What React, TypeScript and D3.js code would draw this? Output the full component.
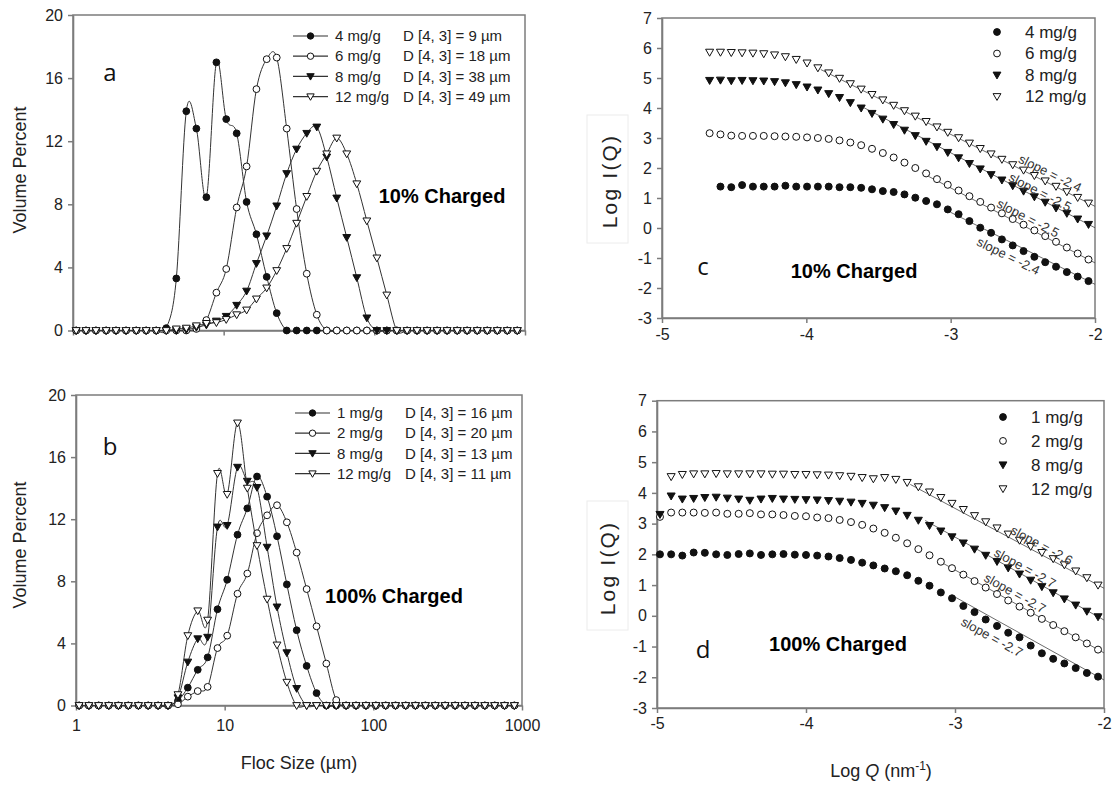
import React, { useEffect, useRef } from 'react';
import * as d3 from 'd3';

// Floc size bins (µm) shared by panels a and b
const flocSizes = [1.05, 1.22, 1.42, 1.66, 1.93, 2.25, 2.63, 3.06, 3.57, 4.16, 4.85, 5.65, 6.59, 7.68, 8.95, 10.4, 12.2, 14.2, 16.5, 19.3, 22.5, 26.2, 30.5, 35.6, 41.5, 48.3, 56.3, 65.6, 76.5, 89.2, 104, 121, 141, 165, 192, 224, 261, 304, 355, 413, 482, 562, 655, 763, 889];

// Panel a - 10% charged, volume percent per bin
const volA4 = [0, 0, 0, 0, 0, 0, 0, 0, 0, 0.15, 3.3, 13.9, 12.8, 8.45, 17.0, 13.4, 12.5, 8.15, 6.1, 3.4, 1.1, 0, 0, 0, 0, 0, 0, 0, 0, 0, 0, 0, 0, 0, 0, 0, 0, 0, 0, 0, 0, 0, 0, 0, 0];
const volA6 = [0, 0, 0, 0, 0, 0, 0, 0, 0, 0, 0, 0, 0.1, 0.66, 2.4, 3.9, 7.8, 10.4, 15.3, 17.2, 17.3, 12.8, 7.7, 3.6, 1.0, 0, 0, 0, 0, 0, 0, 0, 0, 0, 0, 0, 0, 0, 0, 0, 0, 0, 0, 0, 0];
const volA8 = [0, 0, 0, 0, 0, 0, 0, 0, 0, 0, 0, 0.05, 0.2, 0.35, 0.6, 0.9, 1.6, 2.5, 4.25, 6.0, 7.9, 9.95, 11.5, 12.5, 12.9, 11.0, 8.4, 5.9, 3.35, 0.8, 0, 0, 0, 0, 0, 0, 0, 0, 0, 0, 0, 0, 0, 0, 0];
const volA12 = [0, 0, 0, 0, 0, 0, 0, 0, 0, 0, 0.1, 0.15, 0.3, 0.45, 0.5, 0.7, 1.0, 1.3, 2.0, 2.7, 3.8, 5.2, 6.8, 8.5, 10.1, 11.2, 12.2, 11.2, 9.3, 6.95, 4.6, 2.25, 0, 0, 0, 0, 0, 0, 0, 0, 0, 0, 0, 0, 0];

// Panel b - 100% charged
const volB1 = [0, 0, 0, 0, 0, 0, 0, 0, 0, 0, 0.3, 1.15, 2.3, 3.1, 6.2, 8.1, 11.0, 12.7, 14.75, 13.45, 10.9, 7.8, 4.85, 2.55, 0.8, 0, 0, 0, 0, 0, 0, 0, 0, 0, 0, 0, 0, 0, 0, 0, 0, 0, 0, 0, 0];
const volB2 = [0, 0, 0, 0, 0, 0, 0, 0, 0, 0, 0.08, 0.57, 0.93, 1.2, 3.7, 4.5, 7.2, 8.5, 11.1, 12.25, 12.9, 11.8, 9.85, 7.5, 5.1, 2.7, 0.35, 0, 0, 0, 0, 0, 0, 0, 0, 0, 0, 0, 0, 0, 0, 0, 0, 0, 0];
const volB8 = [0, 0, 0, 0, 0, 0, 0, 0, 0, 0, 0.5, 2.8, 4.3, 4.4, 11.5, 11.6, 15.35, 14.45, 14.05, 10.2, 6.35, 3.4, 1.1, 0, 0, 0, 0, 0, 0, 0, 0, 0, 0, 0, 0, 0, 0, 0, 0, 0, 0, 0, 0, 0, 0];
const volB12 = [0, 0, 0, 0, 0, 0, 0, 0, 0, 0, 0.7, 4.5, 6.1, 5.5, 14.95, 13.6, 18.2, 14.0, 10.3, 6.85, 3.9, 1.5, 0, 0, 0, 0, 0, 0, 0, 0, 0, 0, 0, 0, 0, 0, 0, 0, 0, 0, 0, 0, 0, 0, 0];

const dosesA = ['4 mg/g', '6 mg/g', '8 mg/g', '12 mg/g'];
const d43A = [9, 18, 38, 49];
const dosesB = ['1 mg/g', '2 mg/g', '8 mg/g', '12 mg/g'];
const d43B = [16, 20, 13, 11];

// Panel c - scattering, 10% charged (log Q grid, log I per series)
const logQc = [-4.67, -4.595, -4.52, -4.445, -4.37, -4.295, -4.22, -4.145, -4.07, -3.995, -3.92, -3.845, -3.77, -3.695, -3.62, -3.545, -3.47, -3.395, -3.32, -3.245, -3.17, -3.095, -3.02, -2.945, -2.87, -2.795, -2.72, -2.645, -2.57, -2.495, -2.42, -2.345, -2.27, -2.195, -2.12, -2.045];
const logIc4 = [null, 1.38, 1.36, 1.43, 1.38, 1.38, 1.38, 1.41, 1.38, 1.38, 1.38, 1.38, 1.36, 1.36, 1.34, 1.29, 1.23, 1.2, 1.12, 1.01, 0.9, 0.79, 0.62, 0.46, 0.23, 0.01, -0.16, -0.38, -0.58, -0.77, -0.96, -1.14, -1.29, -1.47, -1.62, -1.77];
const logIc6 = [3.16, 3.12, 3.08, 3.07, 3.07, 3.07, 3.06, 3.05, 3.04, 3.02, 3.0, 2.97, 2.92, 2.85, 2.76, 2.64, 2.5, 2.35, 2.18, 2.0, 1.82, 1.63, 1.44, 1.25, 1.06, 0.87, 0.68, 0.49, 0.3, 0.11, -0.08, -0.27, -0.46, -0.65, -0.85, -1.05];
const logIc8 = [4.92, 4.93, 4.91, 4.92, 4.91, 4.9, 4.88, 4.84, 4.78, 4.7, 4.6, 4.48, 4.35, 4.18, 4.0, 3.82, 3.63, 3.45, 3.26, 3.08, 2.89, 2.71, 2.52, 2.34, 2.15, 1.97, 1.78, 1.6, 1.41, 1.23, 1.04, 0.86, 0.67, 0.49, 0.3, 0.12];
const logIc12 = [5.86, 5.86, 5.85, 5.84, 5.83, 5.81, 5.77, 5.71, 5.62, 5.5, 5.34, 5.17, 4.99, 4.81, 4.63, 4.45, 4.27, 4.09, 3.91, 3.73, 3.55, 3.37, 3.19, 3.01, 2.83, 2.65, 2.47, 2.29, 2.11, 1.93, 1.75, 1.57, 1.39, 1.21, 1.02, 0.83];
const slopesC = [-2.4, -2.5, -2.5, -2.4];
const fitStartC = [-3.0, -3.2, -3.6, -3.9];

// Panel d - scattering, 100% charged
const logQd = [-4.98, -4.905, -4.83, -4.754, -4.679, -4.603, -4.528, -4.452, -4.377, -4.302, -4.226, -4.151, -4.075, -4.0, -3.925, -3.849, -3.774, -3.698, -3.623, -3.548, -3.472, -3.397, -3.321, -3.246, -3.171, -3.095, -3.02, -2.944, -2.869, -2.794, -2.718, -2.643, -2.567, -2.492, -2.417, -2.341, -2.266, -2.19, -2.115, -2.04];
const logId1 = [2.0, 2.0, 1.96, 2.06, 2.05, 2.0, 1.98, 2.01, 2.03, 1.98, 2.0, 2.01, 1.99, 1.98, 1.96, 1.93, 1.88, 1.82, 1.73, 1.64, 1.54, 1.45, 1.32, 1.14, 0.98, 0.76, 0.57, 0.32, 0.12, -0.12, -0.33, -0.55, -0.7, -0.97, -1.22, -1.4, -1.55, -1.7, -1.86, -1.98];
const logId2 = [3.22, 3.36, 3.36, 3.36, 3.35, 3.36, 3.32, 3.32, 3.34, 3.3, 3.3, 3.28, 3.25, 3.24, 3.2, 3.18, 3.12, 3.05, 2.96, 2.84, 2.7, 2.54, 2.36, 2.17, 1.97, 1.76, 1.55, 1.34, 1.13, 0.92, 0.71, 0.5, 0.3, 0.1, -0.1, -0.3, -0.5, -0.7, -0.9, -1.1];
const logId8 = [3.3, 3.9, 3.8, 3.82, 3.85, 3.86, 3.83, 3.8, 3.76, 3.8, 3.82, 3.8, 3.79, 3.78, 3.77, 3.75, 3.73, 3.7, 3.66, 3.6, 3.52, 3.41, 3.27, 3.11, 2.94, 2.76, 2.57, 2.37, 2.17, 1.97, 1.77, 1.56, 1.36, 1.16, 0.95, 0.75, 0.55, 0.35, 0.15, -0.03];
const logId12 = [null, 4.53, 4.6, 4.62, 4.62, 4.63, 4.62, 4.62, 4.62, 4.62, 4.61, 4.61, 4.6, 4.6, 4.59, 4.58, 4.56, 4.54, 4.5, 4.46, 4.5, 4.44, 4.34, 4.2, 4.03, 3.85, 3.66, 3.46, 3.26, 3.06, 2.86, 2.66, 2.46, 2.26, 2.06, 1.86, 1.66, 1.46, 1.24, 1.0];
const slopesD = [-2.7, -2.7, -2.7, -2.6];
const fitStartD = [-3.0, -3.1, -3.2, -3.3];

const volumeTicks = [0, 4, 8, 12, 16, 20];
const sizeTicks = [1, 10, 100, 1000];
const logITicks = [-3, -2, -1, 0, 1, 2, 3, 4, 5, 6, 7];
const logQTicks = [-5, -4, -3, -2];

const shapes = ['dot', 'ring', 'tri', 'opentri'];
const INK = '#111';
const AXIS = '#7c7c7c';
const FONT = '"Liberation Sans", Arial, Helvetica, sans-serif';

function drawMarker(g: any, shape: string, cx: number, cy: number, r: number) {
  if (shape === 'dot' || shape === 'ring') {
    g.append('circle')
      .attr('cx', cx).attr('cy', cy).attr('r', r)
      .attr('fill', shape === 'dot' ? INK : '#fff')
      .attr('stroke', INK).attr('stroke-width', 1);
  } else {
    const w = r * 1.15;
    g.append('path')
      .attr('d', `M${cx - w},${cy - r * 0.85}L${cx + w},${cy - r * 0.85}L${cx},${cy + r * 1.15}Z`)
      .attr('fill', shape === 'tri' ? INK : '#fff')
      .attr('stroke', INK).attr('stroke-width', 1);
  }
}

function styleAxis(a: any) {
  a.select('.domain').attr('stroke', AXIS).attr('stroke-width', 1.6);
  a.selectAll('.tick line').attr('stroke', AXIS).attr('stroke-width', 1.5);
  a.selectAll('.tick text').attr('fill', '#222').attr('font-size', 16).attr('font-family', FONT);
}

function drawSizePanel(svg: any, p: any) {
  const x = d3.scaleLog().domain([1, 1000]).range([p.left, p.right]);
  const y = d3.scaleLinear().domain([0, 20]).range([p.bottom, p.top]);
  const g = svg.append('g');

  g.append('rect')
    .attr('x', p.left).attr('y', p.top)
    .attr('width', p.right - p.left).attr('height', p.bottom - p.top)
    .attr('fill', 'none').attr('stroke', AXIS).attr('stroke-width', 1.5);

  const yAxis = g.append('g').attr('transform', `translate(${p.left},0)`)
    .call(d3.axisLeft(y).tickValues(volumeTicks).tickSize(5).tickSizeOuter(0).tickPadding(5));
  const xAxis = g.append('g').attr('transform', `translate(0,${p.bottom})`)
    .call(d3.axisBottom(x).tickValues(sizeTicks)
      .tickFormat(p.xLabels ? (d: any) => String(d) : () => '')
      .tickSize(5).tickSizeOuter(0).tickPadding(9));
  styleAxis(yAxis);
  styleAxis(xAxis);

  // series: smoothed line, then markers
  const line = d3.line<number>()
    .x((d, i) => x(flocSizes[i]))
    .y(d => y(d))
    .curve(d3.curveCardinal.tension(0));
  p.series.forEach((vals: number[], k: number) => {
    g.append('path').attr('d', line(vals))
      .attr('fill', 'none').attr('stroke', '#333').attr('stroke-width', 1);
    vals.forEach((v, i) => drawMarker(g, shapes[k], x(flocSizes[i]), y(v), 3.4));
  });

  // legend
  p.doses.forEach((name: string, k: number) => {
    const yy = p.legendY + k * 20.2;
    g.append('line').attr('x1', p.legendX).attr('x2', p.legendX + 35)
      .attr('y1', yy).attr('y2', yy).attr('stroke', '#333').attr('stroke-width', 1.2);
    drawMarker(g, shapes[k], p.legendX + 17.5, yy, 3.2);
    g.append('text').attr('x', p.legendX + 42).attr('y', yy).attr('dy', '0.35em')
      .attr('font-size', 15).attr('font-family', FONT).attr('fill', '#222').text(name);
    g.append('text').attr('x', p.legendX + 110).attr('y', yy).attr('dy', '0.35em')
      .attr('font-size', 15).attr('font-family', FONT).attr('fill', '#222')
      .text(`D [4, 3] = ${p.d43[k]} µm`);
  });

  g.append('text')
    .attr('transform', `translate(26,${p.titleY}) rotate(-90)`)
    .attr('text-anchor', 'middle').attr('font-size', 18).attr('font-family', FONT).attr('fill', '#222')
    .text('Volume Percent');

  g.append('text').attr('x', p.letterX).attr('y', p.letterY).attr('dy', '0.35em')
    .attr('text-anchor', 'middle').attr('font-size', 24).attr('font-family', '"Open Sans", sans-serif')
    .attr('fill', '#111').text(p.letter);
  g.append('text').attr('x', p.chargeX).attr('y', p.chargeY).attr('dy', '0.35em')
    .attr('text-anchor', 'middle').attr('font-size', 20).attr('font-weight', 'bold')
    .attr('font-family', FONT).attr('fill', '#000').text(p.charge);
}

function drawScatterPanel(svg: any, p: any) {
  const x = d3.scaleLinear().domain([-5, -2]).range([p.left, p.right]);
  const y = d3.scaleLinear().domain([-3, 7]).range([p.bottom, p.top]);
  const g = svg.append('g');

  // faint frame around the pasted y title
  g.append('rect').attr('x', 587).attr('y', p.titleBox[0])
    .attr('width', 41).attr('height', p.titleBox[1] - p.titleBox[0])
    .attr('fill', '#fff').attr('stroke', '#ececec').attr('stroke-width', 1);
  g.append('text')
    .attr('transform', `translate(${p.titleX},${p.titleY}) rotate(-90)`)
    .attr('text-anchor', 'middle').attr('dy', '0.35em')
    .attr('font-size', 21).attr('font-family', FONT).attr('fill', '#222')
    .attr('letter-spacing', 2.2)
    .text('Log I(Q)');

  g.append('rect')
    .attr('x', p.left).attr('y', p.top)
    .attr('width', p.right - p.left).attr('height', p.bottom - p.top)
    .attr('fill', 'none').attr('stroke', AXIS).attr('stroke-width', 1.5);

  const yAxis = g.append('g').attr('transform', `translate(${p.left},0)`)
    .call(d3.axisLeft(y).tickValues(logITicks).tickFormat((d: any) => String(d))
      .tickSize(5).tickSizeOuter(0).tickPadding(5));
  const xAxis = g.append('g').attr('transform', `translate(0,${p.bottom})`)
    .call(d3.axisBottom(x).tickValues(logQTicks).tickFormat((d: any) => String(d))
      .tickSize(5).tickSizeOuter(0).tickPadding(p.xPad));
  styleAxis(yAxis);
  styleAxis(xAxis);

  // straight power-law fits through the high-Q part
  p.series.forEach((vals: (number | null)[], k: number) => {
    const last = vals[vals.length - 1] as number;
    const qLast = p.grid[p.grid.length - 1];
    const x0 = p.fitStart[k];
    const y0 = last + p.slopes[k] * (x0 - qLast);
    const y1 = last + p.slopes[k] * (-2 - qLast);
    g.append('line').attr('x1', x(x0)).attr('y1', y(y0)).attr('x2', x(-2)).attr('y2', y(y1))
      .attr('stroke', '#444').attr('stroke-width', 0.8);
  });

  p.series.forEach((vals: (number | null)[], k: number) => {
    vals.forEach((v, i) => {
      if (v === null) return;
      drawMarker(g, shapes[k], x(p.grid[i]), y(v), 3.5);
    });
  });

  // legend
  p.doses.forEach((name: string, k: number) => {
    const yy = p.legendY + k * p.legendDy;
    drawMarker(g, shapes[k], p.legendX, yy, 3.4);
    g.append('text').attr('x', p.legendX + 28).attr('y', yy).attr('dy', '0.35em')
      .attr('font-size', 17).attr('font-family', FONT).attr('fill', '#222').text(name);
  });

  // slope labels, rotated along the fitted lines
  const pxPerX = x(1) - x(0);
  const pxPerY = y(0) - y(1);
  p.labelQ.forEach((q: number, k: number) => {
    const ang = Math.atan(-p.slopes[k] * pxPerY / pxPerX) * 180 / Math.PI;
    g.append('text')
      .attr('transform', `translate(${x(q)},${y(p.labelI[k])}) rotate(${ang})`)
      .attr('text-anchor', 'middle').attr('dy', '0.35em')
      .attr('font-size', 13).attr('font-family', FONT).attr('fill', '#333')
      .text(`slope = ${p.slopes[k]}`);
  });

  g.append('text').attr('x', p.letterX).attr('y', p.letterY).attr('dy', '0.35em')
    .attr('text-anchor', 'middle').attr('font-size', 24).attr('font-family', '"Open Sans", sans-serif')
    .attr('fill', '#111').text(p.letter);
  g.append('text').attr('x', p.chargeX).attr('y', p.chargeY).attr('dy', '0.35em')
    .attr('text-anchor', 'middle').attr('font-size', 20).attr('font-weight', 'bold')
    .attr('font-family', FONT).attr('fill', '#000').text(p.charge);
}

export default function App() {
  const svgRef = useRef<SVGSVGElement>(null);

  useEffect(() => {
    const svg = d3.select(svgRef.current);
    svg.selectAll('*').remove();
    svg.append('rect').attr('width', 1112).attr('height', 786).attr('fill', '#fff');

    drawSizePanel(svg, {
      left: 73, right: 525, top: 15, bottom: 330.5,
      series: [volA4, volA6, volA8, volA12], doses: dosesA, d43: d43A,
      legendX: 293, legendY: 36, titleY: 170, xLabels: false,
      letter: 'a', letterX: 110, letterY: 73, charge: '10% Charged', chargeX: 442, chargeY: 196,
    });
    drawSizePanel(svg, {
      left: 76, right: 522, top: 395, bottom: 705.5,
      series: [volB1, volB2, volB8, volB12], doses: dosesB, d43: d43B,
      legendX: 295, legendY: 413, titleY: 545, xLabels: true,
      letter: 'b', letterX: 110, letterY: 447, charge: '100% Charged', chargeX: 394, chargeY: 596,
    });
    svg.append('text').attr('x', 299).attr('y', 769).attr('text-anchor', 'middle')
      .attr('font-size', 18).attr('font-family', FONT).attr('fill', '#222').text('Floc Size (µm)');

    drawScatterPanel(svg, {
      left: 662, right: 1095, top: 18, bottom: 318, xPad: 6,
      grid: logQc, series: [logIc4, logIc6, logIc8, logIc12],
      slopes: slopesC, fitStart: fitStartC,
      doses: dosesA, legendX: 997, legendY: 32, legendDy: 21.5,
      labelQ: [-2.6, -2.464, -2.38, -2.311], labelI: [-0.93, 0.33, 1.2, 1.83],
      titleX: 610, titleY: 181, titleBox: [115, 243],
      letter: 'c', letterX: 703, letterY: 267, charge: '10% Charged', chargeX: 854, chargeY: 271,
    });
    drawScatterPanel(svg, {
      left: 657, right: 1104, top: 400.7, bottom: 708, xPad: 5,
      grid: logQd, series: [logId1, logId2, logId8, logId12],
      slopes: slopesD, fitStart: fitStartD,
      doses: dosesB, legendX: 1003, legendY: 417, legendDy: 23.9,
      labelQ: [-2.752, -2.597, -2.53, -2.418], labelI: [-0.69, 0.74, 1.56, 2.3],
      titleX: 608, titleY: 568, titleBox: [501, 630],
      letter: 'd', letterX: 703, letterY: 650, charge: '100% Charged', chargeX: 838, chargeY: 644,
    });

    const xt = svg.append('text').attr('x', 881).attr('y', 777).attr('text-anchor', 'middle')
      .attr('font-size', 18).attr('font-family', FONT).attr('fill', '#222');
    xt.append('tspan').text('Log ');
    xt.append('tspan').attr('font-style', 'italic').text('Q');
    xt.append('tspan').text(' (nm');
    xt.append('tspan').attr('font-size', 12).attr('dy', -7).text('-1');
    xt.append('tspan').attr('dy', 7).text(')');
  }, []);

  return (
    <svg ref={svgRef} width={1112} height={786}
      style={{ position: 'absolute', left: 0, top: 0, display: 'block' }} />
  );
}
